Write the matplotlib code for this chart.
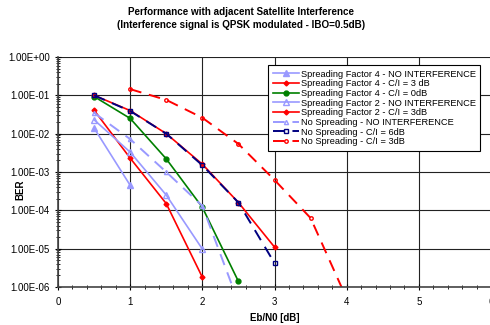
import numpy as np
import matplotlib
matplotlib.use('Agg')
from matplotlib import pyplot as plt

plt.rcParams['font.family'] = ['Liberation Sans', 'DejaVu Sans']

# Eb/N0 values and BER per curve
x_sf4_noi = [0.5, 1.0]
y_sf4_noi = [1.4e-2, 4.5e-4]

x_sf4_ci3 = [0.5, 1.0, 1.5, 2.0]
y_sf4_ci3 = [4.1e-2, 2.3e-3, 1.5e-4, 1.8e-6]

x_sf4_ci0 = [0.5, 1.0, 1.5, 2.0, 2.5]
y_sf4_ci0 = [9.3e-2, 2.5e-2, 2.2e-3, 1.2e-4, 1.4e-6]

x_sf2_noi = [0.5, 1.0, 1.5, 2.0]
y_sf2_noi = [2.3e-2, 3.3e-3, 2.5e-4, 9.8e-6]

x_sf2_ci3 = [0.5, 1.0, 1.5, 2.0, 2.5, 3.0]
y_sf2_ci3 = [1.0e-1, 4.0e-2, 1.0e-2, 1.6e-3, 1.6e-4, 1.1e-5]

x_ns_noi = [0.5, 1.0, 1.5, 2.0, 2.5]
y_ns_noi = [3.5e-2, 7.2e-3, 1.0e-3, 1.3e-4, 4.0e-7]

x_ns_ci6 = [0.5, 1.0, 1.5, 2.0, 2.5, 3.0]
y_ns_ci6 = [1.0e-1, 3.9e-2, 1.0e-2, 1.5e-3, 1.6e-4, 4.2e-6]

x_ns_ci3 = [1.0, 1.5, 2.0, 2.5, 3.0, 3.5, 4.0]
y_ns_ci3 = [1.45e-1, 7.6e-2, 2.6e-2, 5.4e-3, 6.2e-4, 6.3e-5, 5.0e-7]

labels = ['Spreading Factor 4 - NO INTERFERENCE',
          'Spreading Factor 4 - C/I = 3 dB',
          'Spreading Factor 4 - C/I = 0dB',
          'Spreading Factor 2 - NO INTERFERENCE',
          'Spreading Factor 2 - C/I = 3dB',
          'No Spreading - NO INTERFERENCE',
          'No Spreading - C/I = 6dB',
          'No Spreading - C/I = 3dB']

lblue = '#9999FF'
fig = plt.figure(figsize=(4.9, 3.25), dpi=100)
ax = fig.add_axes([58/490, 38/325, 433/490, 230/325])

ax.plot(x_sf4_noi, y_sf4_noi, '-', color=lblue, marker='^', ms=4, lw=1.2, label=labels[0])
ax.plot(x_sf4_ci3, y_sf4_ci3, '-', color='red', marker='D', ms=2.5, lw=1.2, label=labels[1])
ax.plot(x_sf4_ci0, y_sf4_ci0, '-', color='green', marker='o', ms=3.5, lw=1.2, label=labels[2])
ax.plot(x_sf2_noi, y_sf2_noi, '-', color=lblue, marker='^', ms=4, mfc='none', lw=1.2, label=labels[3])
ax.plot(x_sf2_ci3, y_sf2_ci3, '-', color='red', marker='D', ms=2.5, lw=1.2, label=labels[4])
ax.plot(x_ns_noi, y_ns_noi, '--', color=lblue, marker='^', ms=3, mfc='none', lw=1.4,
        dashes=(6, 4), label=labels[5])
ax.plot(x_ns_ci6, y_ns_ci6, '--', color='#000080', marker='s', ms=3.5, mfc='none', lw=1.4,
        dashes=(6, 4), label=labels[6])
ax.plot(x_ns_ci3, y_ns_ci3, '--', color='red', marker='o', ms=2.5, mfc='none', lw=1.4,
        dashes=(6, 4), label=labels[7])

ax.set_yscale('log')
ax.set_ylim(1e-6, 1)
ax.set_xlim(0, 6)
ax.set_xticks(range(0, 7))
ax.set_xticks(np.arange(0, 6.01, 0.2), minor=True)
ax.set_yticks([10.0**k for k in range(-6, 1)])
ax.set_yticklabels(['1.00E-06', '1.00E-05', '1.00E-04', '1.00E-03',
                    '1.00E-02', '1.00E-01', '1.00E+00'])
ax.grid(True, which='major', color='#222222', lw=0.8)
ax.tick_params(which='major', direction='inout', length=5, labelsize=7, width=0.8)
ax.tick_params(which='minor', direction='inout', length=3, width=0.6)
ax.tick_params(axis='x', pad=5)
for s in ['top', 'right']:
    ax.spines[s].set_visible(False)
for s in ['left', 'bottom']:
    ax.spines[s].set_linewidth(1.2)
    ax.spines[s].set_color('#444444')

ax.set_xlabel('Eb/N0 [dB]', fontsize=7, fontweight='bold', labelpad=4)
fig.text(20/490, 1 - 190/325, 'BER', rotation=90, fontsize=7, fontweight='bold',
         ha='center', va='center')

fig.text(241/490, 1 - 12/325, 'Performance with adjacent Satellite Interference',
         fontsize=7.1, fontweight='bold', ha='center', va='center')
fig.text(241/490, 1 - 25/325, '(Interference signal is QPSK modulated - IBO=0.5dB)',
         fontsize=7.1, fontweight='bold', ha='center', va='center')

leg = ax.legend(loc='upper left', bbox_to_anchor=(268/490, 1 - 65/325),
                bbox_transform=fig.transFigure, fontsize=6.7, frameon=True,
                fancybox=False, framealpha=1, edgecolor='black',
                labelspacing=0.07, handlelength=2.8, handletextpad=0.2,
                borderpad=0.5, borderaxespad=0)
leg.get_frame().set_linewidth(0.8)

fig.savefig('out.png', dpi=100)
